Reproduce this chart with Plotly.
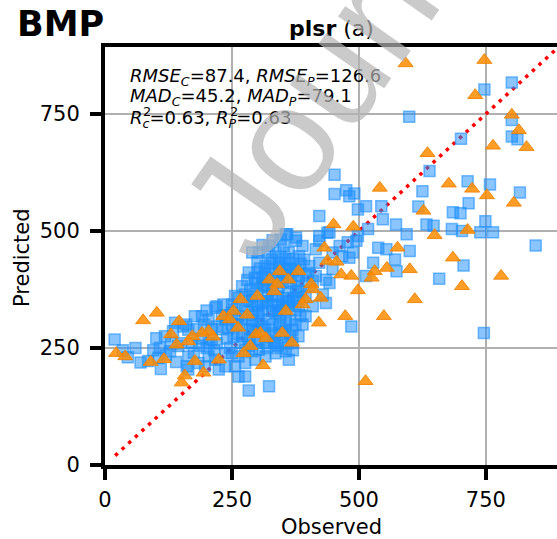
import plotly.graph_objects as go

# Calibration set (blue squares): observed vs predicted
cal_obs = [
    801, 747, 599, 801, 801, 812, 701, 639, 452, 625, 714, 758, 817, 716, 617, 685, 700,
    452, 475, 481, 491, 422, 498, 514, 544, 547, 573, 594, 633, 647, 683, 703, 739, 749,
    764, 356, 376, 422, 442, 518, 498,
    848, 746, 706, 658, 485, 538, 554, 600, 571, 574, 528, 514, 488, 442,
    19, 70, 85, 101, 108, 128, 144, 105, 164, 161, 184, 177, 191, 217, 204, 164, 154, 134,
    118, 138, 171, 210, 220, 237, 220, 233, 250, 256, 263, 276, 290, 263, 243, 253, 246,
    237, 256, 263, 276, 283, 323, 276, 296, 316, 336, 356, 362, 346, 333, 303, 290, 296,
    310, 323, 336, 349, 362, 376, 386, 376, 366, 382, 376, 356, 342, 329, 316, 310, 296,
    286, 303, 300, 336, 352, 359, 376, 389, 392, 402, 415, 422, 415, 422, 438, 448, 462,
    478, 495, 467, 481, 448, 435, 429, 435, 409, 395, 389, 381, 369, 356, 343, 329, 316,
    369, 382, 402, 409, 396, 382, 362, 346, 323, 290, 280, 283, 270, 256, 250, 230, 276,
    290, 303, 316, 329, 342, 356, 342, 329, 313, 329, 342, 283, 270, 250, 217, 204, 197,
    237, 224, 263, 276,
    300, 310, 320, 330, 345, 355, 300, 320, 340, 360, 350, 330, 360, 300, 290, 280, 270,
    260, 250, 240, 230, 220, 210, 200, 190, 180, 350, 365, 375, 380, 395, 400, 385, 370,
    345, 320, 310, 330, 240, 200, 160, 150, 130, 120, 95, 60, 45, 35, 110, 140, 175, 185,
    195, 205, 215, 164,
    285, 295, 305, 315, 325, 335, 345, 355, 365, 375, 385, 290, 300, 310, 320, 330, 340,
    350, 360, 370, 380, 290, 300, 310, 320, 330, 340, 350, 360, 370, 380, 295, 305, 315,
    325, 345, 355, 365, 285, 275, 285, 300, 320, 340, 360, 370, 260, 270,
]
cal_pred = [
    817, 802, 744, 737, 702, 696, 697, 628, 620, 585, 606, 599, 582, 559, 552, 540, 538,
    579, 587, 574, 580, 532, 546, 553, 553, 525, 514, 493, 514, 511, 504, 500, 497, 521,
    497, 493, 486, 489, 497, 504, 489,
    469, 282, 426, 398, 296, 464, 461, 457, 439, 414, 432, 404, 454, 389,
    268, 219, 222, 271, 250, 243, 254, 229, 232, 211, 218, 318, 318, 336, 311, 289, 296, 286,
    275, 304, 261, 268, 296, 311, 339, 343, 343, 332, 357, 364, 350, 318, 293, 275, 250,
    239, 211, 189, 189, 159, 168, 218, 225, 232, 239, 243, 225, 250, 261, 246, 243, 268,
    296, 311, 325, 339, 346, 357, 371, 382, 389, 404, 418, 418, 432, 439, 425, 400, 389,
    375, 454, 436, 454, 468, 493, 479, 468, 439, 425, 404, 432, 461, 479, 496, 454, 468,
    476, 479, 446, 443, 418, 396, 364, 346, 339, 318, 300, 275, 289, 304, 293, 282, 261,
    261, 339, 382, 393, 407, 446, 454, 482, 468, 454, 395, 411, 382, 361, 325, 318, 311,
    289, 325, 350, 364, 379, 357, 343, 329, 382, 400, 411, 254, 261, 239, 225, 232, 211,
    211, 204, 232, 246,
    300, 330, 350, 300, 320, 330, 340, 380, 360, 370, 390, 420, 430, 410, 320, 340, 300,
    280, 300, 270, 290, 260, 290, 250, 270, 290, 280, 310, 330, 350, 360, 410, 430, 440,
    445, 455, 470, 480, 320, 330, 300, 260, 260, 235, 245, 250, 230, 245, 205, 220, 240, 255,
    300, 260, 245, 204,
    270, 285, 300, 290, 275, 265, 300, 285, 275, 300, 320, 310, 325, 345, 360, 340, 330,
    350, 340, 355, 370, 360, 375, 385, 395, 375, 395, 405, 400, 415, 395, 400, 420, 410,
    430, 425, 440, 420, 290, 330, 350, 265, 250, 255, 260, 245, 300, 275,
]

# Prediction set (orange triangles): observed vs predicted
val_obs = [
    592, 747, 729, 801, 815, 830, 764, 635, 677, 723, 752, 805, 541, 627, 450, 489, 649, 714,
    432, 576, 438, 456, 465, 485, 531, 525, 555, 600, 685, 703, 780, 498, 610, 549, 473, 421,
    513, 344, 381, 324, 361, 339, 333, 406, 409, 395, 425, 389, 300, 267, 356, 280, 233, 253,
    246, 262, 297, 306, 317, 349, 368, 286, 273, 311, 224, 194, 177, 157, 151, 213, 204, 191,
    172, 164, 141, 130, 146, 102, 75, 116, 90, 40, 22,
]
val_pred = [
    858, 865, 790, 748, 715, 679, 682, 666, 601, 590, 576, 560, 592, 543, 514, 509, 491, 502,
    464, 464, 436, 434, 407, 404, 414, 400, 421, 418, 443, 382, 404, 373, 354, 318, 318, 304,
    179, 414, 414, 396, 396, 386, 371, 386, 375, 354, 357, 343, 361, 354, 329, 321, 318, 329,
    311, 293, 279, 282, 271, 282, 261, 254, 239, 213, 225, 197, 222, 191, 176, 274, 286, 282,
    275, 264, 257, 279, 307, 325, 309, 226, 220, 232, 239,
]

# 1:1 reference line
ref_line = [20, 900]

tick_vals = [0, 250, 500, 750]
tick_text = ["0", "250", "500", "750"]

stats_lines = [
    "<i>RMSE</i><sub><i>C</i></sub>=87.4, <i>RMSE</i><sub><i>P</i></sub>=126.6",
    "<i>MAD</i><sub><i>C</i></sub>=45.2, <i>MAD</i><sub><i>P</i></sub>=79.1",
    "<i>R</i><sub><i>c</i></sub>=0.63, <i>R</i><sub><i>P</i></sub>=0.63",
]

FONT = "DejaVu Sans"
W, H = 557, 539
L, R, T, B = 105, 0, 47, 74
pw, ph = W - L - R, H - T - B


def px_x(p):
    return (p - L) / pw


def px_y(p):
    return (H - B - p) / ph


fig = go.Figure()

fig.add_trace(go.Scatter(
    x=ref_line, y=ref_line, mode="lines",
    line=dict(color="red", width=3.5, dash="3.5px,5.5px"),
    hoverinfo="skip",
))
fig.add_trace(go.Scatter(
    x=cal_obs, y=cal_pred, mode="markers", name="Calibration",
    marker=dict(symbol="square", size=11, color="rgba(30,144,255,0.52)",
                line=dict(color="rgba(30,144,255,0.6)", width=1.5)),
))
fig.add_trace(go.Scatter(
    x=val_obs, y=val_pred, mode="markers", name="Prediction",
    marker=dict(symbol="triangle-up", size=13, color="rgba(255,140,0,0.85)",
                line=dict(color="rgba(240,130,0,0.9)", width=1)),
))

axis_common = dict(
    tickvals=tick_vals, ticktext=tick_text,
    showline=True, linewidth=4, linecolor="black",
    ticks="outside", ticklen=11, tickwidth=4, tickcolor="black",
    showgrid=True, gridcolor="#b0b0b0", gridwidth=1.5,
    zeroline=False, tickfont=dict(family=FONT, size=21, color="black"),
)

fig.update_xaxes(range=[0, 890], mirror=True, ticklabelstandoff=2, **axis_common)
fig.update_yaxes(range=[0, 893], mirror=False, ticklabelstandoff=6, **axis_common)

annotations = []
# statistics block
for txt, yy in zip(stats_lines, [77, 97, 119]):
    annotations.append(dict(
        text=txt, x=px_x(128), y=px_y(yy), xref="paper", yref="paper",
        xanchor="left", yanchor="middle", showarrow=False,
        font=dict(family=FONT, size=18, color="black"),
    ))
# superscript 2 for the R lines
for xx in [141, 228]:
    annotations.append(dict(
        text="2", x=px_x(xx), y=px_y(111), xref="paper", yref="paper",
        xanchor="left", yanchor="middle", showarrow=False,
        font=dict(family=FONT, size=13, color="black"),
    ))
# panel titles
annotations.append(dict(
    text="<b>plsr</b> (a)", x=0.5, y=px_y(28), xref="paper", yref="paper",
    xanchor="center", yanchor="middle", showarrow=False,
    font=dict(family=FONT, size=22, color="black"),
))
annotations.append(dict(
    text="<b>BMP</b>", x=px_x(15), y=px_y(24), xref="paper", yref="paper",
    xanchor="left", yanchor="middle", showarrow=False,
    font=dict(family=FONT, size=35, color="black"),
))
# axis titles
annotations.append(dict(
    text="Observed", x=0.5, y=px_y(527), xref="paper", yref="paper",
    xanchor="center", yanchor="middle", showarrow=False,
    font=dict(family=FONT, size=21, color="black"),
))
annotations.append(dict(
    text="Predicted", x=px_x(22), y=px_y(258), xref="paper", yref="paper",
    xanchor="center", yanchor="middle", showarrow=False, textangle=-90,
    font=dict(family=FONT, size=21, color="black"),
))
# diagonal watermark
annotations.append(dict(
    text="Journal Pre-proof", x=px_x(548), y=px_y(-236), xref="paper", yref="paper",
    xanchor="center", yanchor="middle", showarrow=False, textangle=-55,
    font=dict(family="Liberation Sans", size=150, color="rgba(180,180,180,0.7)"),
))

fig.update_layout(
    width=W, height=H, autosize=False,
    margin=dict(l=L, r=R, t=T, b=B, pad=0),
    plot_bgcolor="white", paper_bgcolor="white",
    showlegend=False,
    annotations=annotations,
)

fig.write_html("out.html")
